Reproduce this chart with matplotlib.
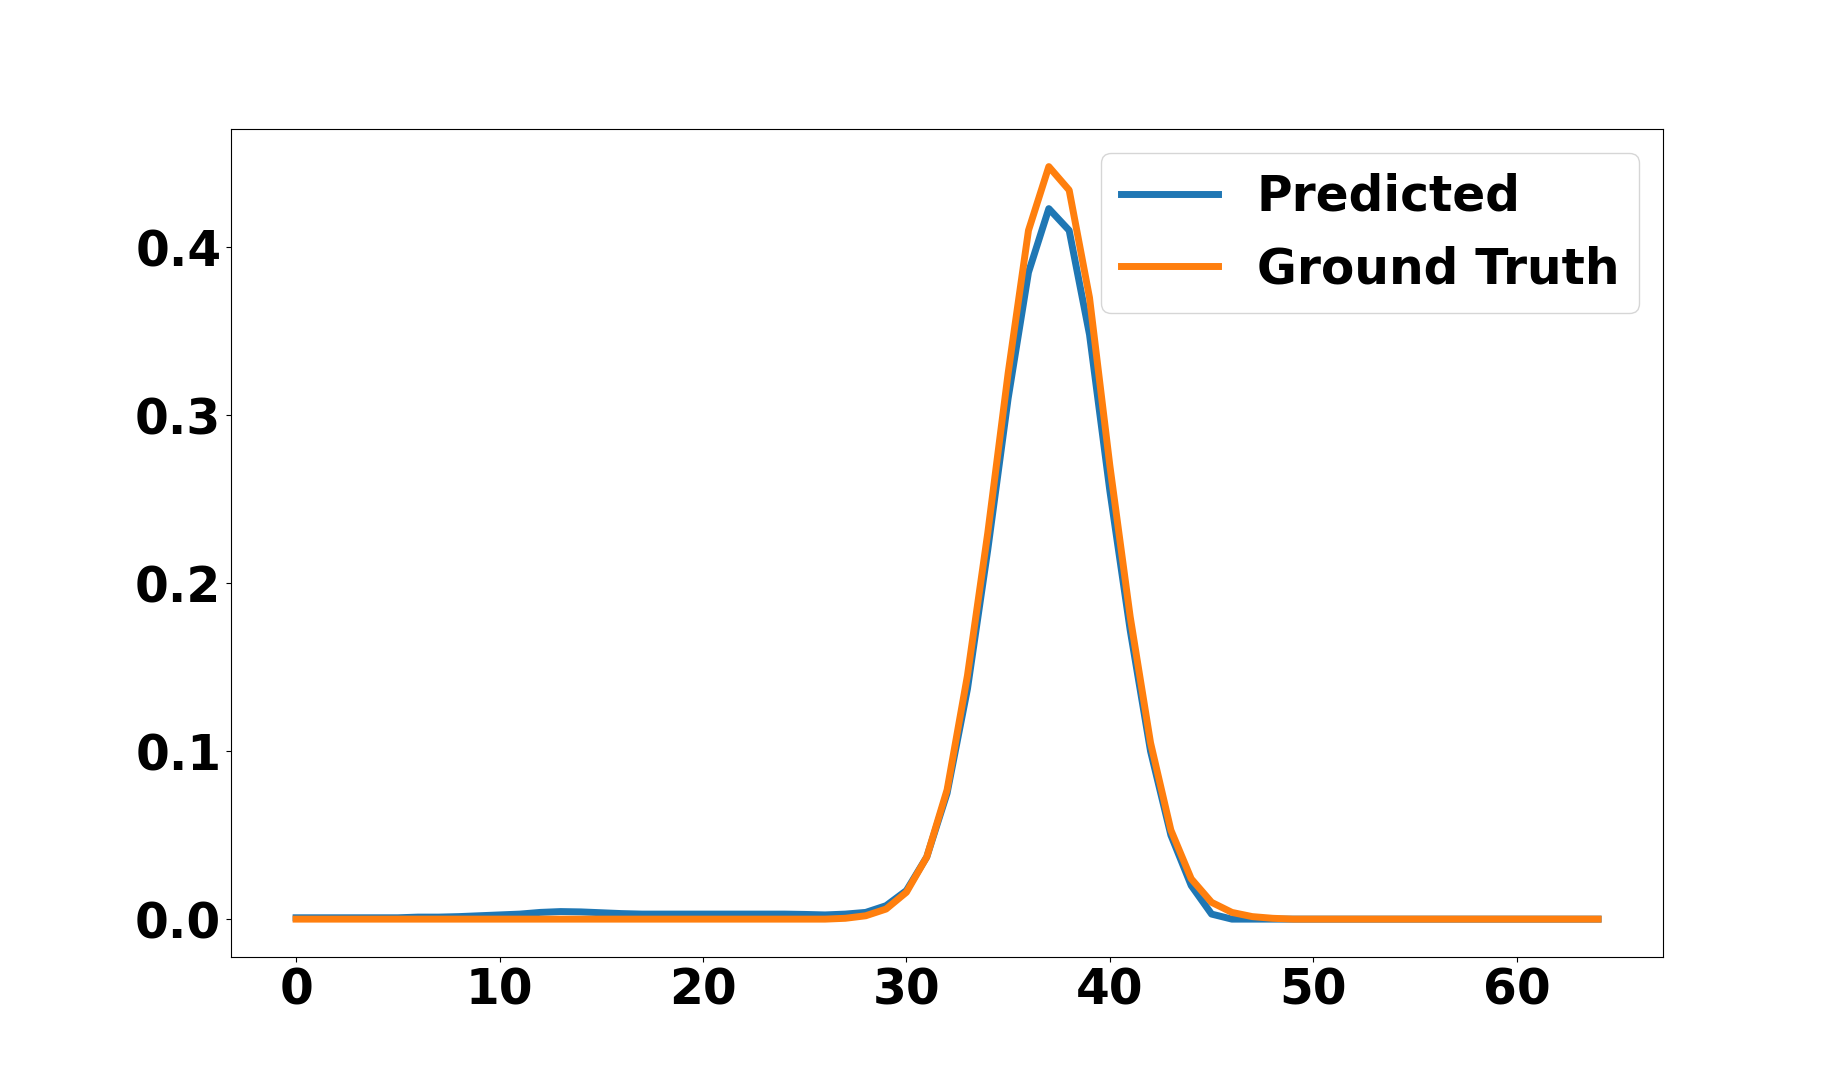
import numpy as np
import matplotlib.pyplot as plt

predicted = [
    0.0008, 0.0008, 0.0008, 0.0008, 0.0008, 0.0008, 0.0012, 0.0012, 0.0015, 0.002,
    0.0025, 0.003, 0.004, 0.0045, 0.0043, 0.0038, 0.0033, 0.003, 0.003, 0.003,
    0.003, 0.003, 0.003, 0.003, 0.003, 0.0028, 0.0025, 0.003, 0.004, 0.008,
    0.017, 0.037, 0.075, 0.137, 0.22, 0.31, 0.385, 0.423, 0.41, 0.348,
    0.255, 0.172, 0.1, 0.05, 0.02, 0.003, 0.0, 0.0, 0.0, 0.0,
    0.0, 0.0, 0.0, 0.0, 0.0, 0.0, 0.0, 0.0, 0.0, 0.0,
    0.0, 0.0, 0.0, 0.0, 0.0,
]
ground_truth = [
    0.0, 0.0, 0.0, 0.0, 0.0, 0.0, 0.0, 0.0, 0.0, 0.0,
    0.0, 0.0, 0.0, 0.0, 0.0, 0.0, 0.0, 0.0, 0.0, 0.0,
    0.0, 0.0, 0.0, 0.0, 0.0, 0.0, 0.0, 0.0005, 0.002, 0.006,
    0.016, 0.037, 0.077, 0.145, 0.23, 0.325, 0.41, 0.448, 0.434, 0.37,
    0.27, 0.18, 0.105, 0.053, 0.024, 0.01, 0.004, 0.0015, 0.0005, 0.0,
    0.0, 0.0, 0.0, 0.0, 0.0, 0.0, 0.0, 0.0, 0.0, 0.0,
    0.0, 0.0, 0.0, 0.0, 0.0,
]

x = np.arange(len(predicted))

plt.rcParams['font.weight'] = 'bold'
plt.rcParams['font.size'] = 35

fig = plt.figure(figsize=(18.48, 10.75), dpi=100)
plt.plot(x, predicted, linewidth=5, label='Predicted')
plt.plot(x, ground_truth, linewidth=5, label='Ground Truth')
plt.xticks(fontweight='bold')
plt.yticks([0.0, 0.1, 0.2, 0.3, 0.4], fontweight='bold')
plt.legend(prop={'weight': 'bold', 'size': 35})
plt.savefig('out.png', dpi=100)
